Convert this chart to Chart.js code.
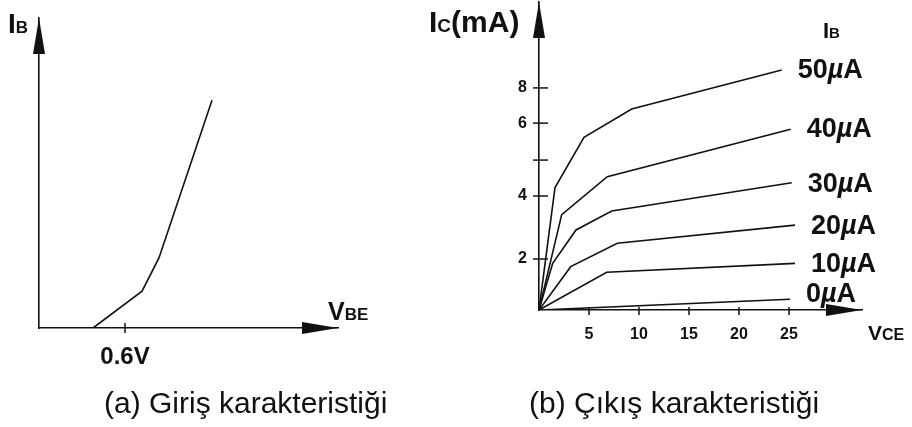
<!DOCTYPE html>
<html>
<head>
<meta charset="utf-8">
<script src="https://cdn.jsdelivr.net/npm/chart.js@4.4.0/dist/chart.umd.min.js"></script>
<style>
  body { margin: 0; background: #fff; }
  #wrap { position: relative; width: 912px; height: 427px; overflow: hidden; background: #fff; }
  canvas { position: absolute; left: 0; top: 0; }
  .caption { position: absolute; top: 387px; font-size: 30px; line-height: 32px; font-family: "Liberation Sans", Arial, sans-serif; color: #111; white-space: nowrap; }
</style>
</head>
<body>
<div id="wrap">
  <canvas id="giris" width="912" height="427"></canvas>
  <canvas id="cikis" width="912" height="427"></canvas>
  <div class="caption" style="left:104px">(a) Giriş karakteristiği</div>
  <div class="caption" style="left:529px">(b) Çıkış karakteristiği</div>
</div>
<script>
// (a) giriş karakteristiği: VBE (V) - IB (keyfi birim)
const vbe = [0.377, 0.719, 0.837, 1.207];
const ib = [0, 11.9, 22.6, 73.5];
const vbeTicks = [0.6];
const vbeTickLabels = ['0.6V'];

// (b) çıkış karakteristiği: VCE (V) - IC (şekildeki eksen birimi)
const vceTicks = [5, 10, 15, 20, 25];
const icTicks = [2, 4.47, 5.88, 7.33, 8.71];
const icTickLabels = ['2', '4', '', '6', '8'];
const ibValues = ['50', '40', '30', '20', '10', '0'];

const vce50 = [0, 1.6, 4.5, 9.27, 24.27];
const ic50 = [0, 4.8, 6.77, 7.88, 9.41];
const vce40 = [0, 2.27, 6.83, 25.17];
const ic40 = [0, 3.74, 5.23, 7.09];
const vce30 = [0, 1.37, 3.7, 7.27, 25.27];
const ic30 = [0, 1.83, 3.14, 3.88, 4.99];
const vce20 = [0, 3.17, 7.83, 25.6];
const ic20 = [0, 1.70, 2.62, 3.33];
const vce10 = [0, 6.77, 25.6];
const ic10 = [0, 1.48, 1.83];
const vce0 = [0, 25.1];
const ic0 = [0, 0.42];

const FAM = '"Liberation Sans", Arial, sans-serif';
const INK = '#111';

function pts(xs, ys) {
  return xs.map((x, i) => ({ x: x, y: ys[i] }));
}

// karışık boyutlu metin (I + küçük B gibi)
function drawParts(ctx, x, y, parts) {
  ctx.save();
  ctx.fillStyle = INK;
  ctx.textAlign = 'left';
  ctx.textBaseline = 'alphabetic';
  for (const [txt, size, style] of parts) {
    ctx.font = (style || 'normal') + ' bold ' + size + 'px ' + FAM;
    ctx.fillText(txt, x, y);
    x += ctx.measureText(txt).width;
  }
  ctx.restore();
}

// eksen uçlarındaki oklar
const arrows = {
  id: 'arrows',
  afterDraw(chart) {
    const { ctx, chartArea: a } = chart;
    ctx.save();
    ctx.fillStyle = INK;
    ctx.beginPath();
    ctx.moveTo(a.left, a.top);
    ctx.lineTo(a.left - 6, a.top + 36);
    ctx.lineTo(a.left + 6, a.top + 36);
    ctx.closePath();
    ctx.fill();
    ctx.beginPath();
    ctx.moveTo(a.right, a.bottom);
    ctx.lineTo(a.right - 36, a.bottom - 6);
    ctx.lineTo(a.right - 36, a.bottom + 6);
    ctx.closePath();
    ctx.fill();
    ctx.restore();
  }
};

// ekseni kesen kısa çentikler
const crossTicks = {
  id: 'crossTicks',
  afterDraw(chart, args, opts) {
    const { ctx } = chart;
    ctx.save();
    ctx.strokeStyle = INK;
    ctx.lineWidth = 1.5;
    for (const id of Object.keys(opts.scales || {})) {
      const s = chart.scales[id];
      const [outer, inner] = opts.scales[id];
      s.ticks.forEach(t => {
        const p = s.getPixelForValue(t.value);
        ctx.beginPath();
        if (s.isHorizontal()) {
          ctx.moveTo(p, s.top - inner);
          ctx.lineTo(p, s.top + outer);
        } else {
          ctx.moveTo(s.right - outer, p);
          ctx.lineTo(s.right + inner, p);
        }
        ctx.stroke();
      });
    }
    ctx.restore();
  }
};

const axisTitles = {
  id: 'axisTitles',
  afterDraw(chart, args, opts) {
    const a = chart.chartArea;
    (opts.items || []).forEach(it => {
      drawParts(chart.ctx, a.left + it.dx, (it.fromBottom ? a.bottom : a.top) + it.dy, it.parts);
    });
  }
};

const curveLabels = {
  id: 'curveLabels',
  afterDraw(chart) {
    const { ctx } = chart;
    const dy = [-1, -1, 0, 0, 0, -6];
    chart.data.datasets.forEach((ds, i) => {
      const meta = chart.getDatasetMeta(i);
      const last = meta.data[meta.data.length - 1];
      drawParts(ctx, last.x + 16, last.y + 9 + dy[i], [
        [ds.label, 27], ['\u00b5', 27, 'italic'], ['A', 27]
      ]);
    });
  }
};

function noPad(s) {
  s.paddingTop = 0; s.paddingBottom = 0; s.paddingLeft = 0; s.paddingRight = 0;
}

const axisLine = { color: INK, width: 1.6 };

new Chart(document.getElementById('giris'), {
  type: 'line',
  data: {
    datasets: [{
      data: pts(vbe, ib),
      borderColor: INK, borderWidth: 1.6, pointRadius: 0, tension: 0
    }]
  },
  options: {
    responsive: false,
    animation: false,
    layout: { autoPadding: false, padding: { top: 18, right: 574, left: 0, bottom: 0 } },
    plugins: {
      legend: { display: false },
      tooltip: { enabled: false },
      crossTicks: { scales: { x: [5, 5] } },
      axisTitles: {
        items: [
          { dx: -31, dy: 15, parts: [['I', 28], ['B', 17]] },
          { dx: 289, dy: -8, fromBottom: true, parts: [['V', 25], ['BE', 17]] }
        ]
      }
    },
    scales: {
      x: {
        type: 'linear', min: 0, max: 2.086,
        border: axisLine,
        grid: { display: false, drawTicks: false },
        afterBuildTicks: s => { s.ticks = vbeTicks.map(v => ({ value: v })); },
        afterFit: s => { s.height = 99; noPad(s); },
        ticks: {
          padding: 15, color: INK, autoSkip: false, maxRotation: 0,
          font: { family: FAM, size: 24, weight: 'bold' },
          callback: (v, i) => vbeTickLabels[i]
        }
      },
      y: {
        type: 'linear', min: 0, max: 100,
        border: axisLine,
        grid: { display: false, drawTicks: false },
        ticks: { display: false },
        afterFit: s => { s.width = 39; noPad(s); }
      }
    }
  },
  plugins: [arrows, crossTicks, axisTitles]
});

const curves = [
  [vce50, ic50], [vce40, ic40], [vce30, ic30], [vce20, ic20], [vce10, ic10], [vce0, ic0]
];

new Chart(document.getElementById('cikis'), {
  type: 'line',
  data: {
    datasets: curves.map((c, i) => ({
      label: ibValues[i],
      data: pts(c[0], c[1]),
      borderColor: INK, borderWidth: 1.6, pointRadius: 0, tension: 0
    }))
  },
  options: {
    responsive: false,
    animation: false,
    layout: { autoPadding: false, padding: { top: 2, right: 50, left: 0, bottom: 0 } },
    plugins: {
      legend: { display: false },
      tooltip: { enabled: false },
      crossTicks: { scales: { x: [5, 3], y: [6, 9] } },
      axisTitles: {
        items: [
          { dx: -110, dy: 30, parts: [['I', 30], ['C', 19], ['(mA)', 30]] },
          { dx: 284, dy: 36, parts: [['I', 22], ['B', 15]] },
          { dx: 329, dy: 30, fromBottom: true, parts: [['V', 21], ['CE', 16]] }
        ]
      }
    },
    scales: {
      x: {
        type: 'linear', min: 0, max: 32.3,
        border: axisLine,
        grid: { display: false, drawTicks: false },
        afterBuildTicks: s => { s.ticks = vceTicks.map(v => ({ value: v })); },
        afterFit: s => { s.height = 117; noPad(s); },
        ticks: {
          padding: 15, color: INK, autoSkip: false, maxRotation: 0,
          font: { family: FAM, size: 16, weight: 'bold' }
        }
      },
      y: {
        type: 'linear', min: 0, max: 12.08,
        border: axisLine,
        grid: { display: false, drawTicks: false },
        afterBuildTicks: s => { s.ticks = icTicks.map(v => ({ value: v })); },
        afterFit: s => { s.width = 539; noPad(s); },
        ticks: {
          padding: 12, color: INK, autoSkip: false,
          font: { family: FAM, size: 16, weight: 'bold' },
          callback: (v, i) => icTickLabels[i]
        }
      }
    }
  },
  plugins: [arrows, crossTicks, axisTitles, curveLabels]
});
</script>
</body>
</html>
